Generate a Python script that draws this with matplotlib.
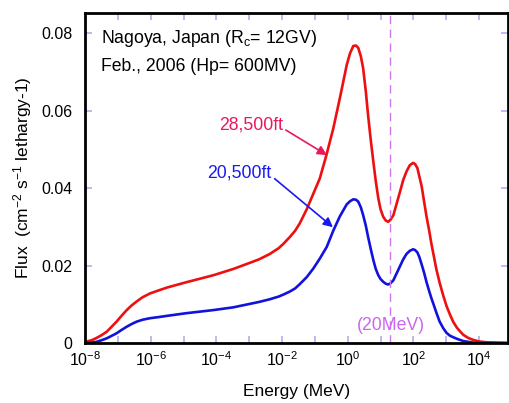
import numpy as np
import matplotlib
matplotlib.use("Agg")
import matplotlib.pyplot as plt
from matplotlib.ticker import FixedLocator, FuncFormatter

plt.rcParams['font.family'] = ['Liberation Sans', 'DejaVu Sans']
plt.rcParams['mathtext.fontset'] = 'custom'
plt.rcParams['mathtext.rm'] = 'Liberation Sans'
plt.rcParams['mathtext.it'] = 'Liberation Sans:italic'
plt.rcParams['mathtext.default'] = 'regular'

# Energy grid as log10(E / MeV)
log_energy = [-8.0, -7.8, -7.65, -7.5, -7.34, -7.2, -7.04, -6.9, -6.73, -6.58,
              -6.43, -6.25, -6.02, -5.75, -5.51, -4.91, -4.5, -4.09, -3.49, -2.98,
              -2.7, -2.37, -2.1, -1.96, -1.76, -1.6, -1.46,
              -1.25, -1.05, -0.85, -0.64, -0.44, -0.24, -0.03, 0.07, 0.17, 0.25,
              0.32, 0.40, 0.47, 0.55, 0.62, 0.70, 0.78, 0.85, 0.93, 1.00,
              1.08, 1.16, 1.23, 1.30, 1.39, 1.49, 1.59, 1.69, 1.79, 1.89,
              1.99, 2.05, 2.12, 2.18, 2.25, 2.32, 2.40, 2.48, 2.55, 2.62,
              2.70, 2.80, 2.91, 3.01, 3.11, 3.21, 3.32, 3.42, 3.52, 3.67,
              3.82, 4.0, 4.2, 4.5, 4.88]

flux_28500ft = [0.0003, 0.0007, 0.0013, 0.0020, 0.0029, 0.0041, 0.0055, 0.0069, 0.0085, 0.0097,
                0.0107, 0.0118, 0.0128, 0.0136, 0.0143, 0.0157, 0.0166, 0.0175, 0.0191, 0.0207,
                0.0216, 0.0230, 0.0245, 0.0256, 0.0274, 0.0290, 0.0309,
                0.0345, 0.0385, 0.0425, 0.0488, 0.0554, 0.0632, 0.0718, 0.0748, 0.0767, 0.0768,
                0.0762, 0.0740, 0.0709, 0.0650, 0.0588, 0.0525, 0.0468, 0.0420, 0.0374, 0.0345,
                0.0326, 0.0316, 0.0313, 0.0318, 0.0330, 0.0360, 0.0390, 0.0421, 0.0443, 0.0459,
                0.0465, 0.0462, 0.0452, 0.0430, 0.0405, 0.0368, 0.0326, 0.0290, 0.0255, 0.0225,
                0.0190, 0.0155, 0.0122, 0.0095, 0.0074, 0.0055, 0.0040, 0.0030, 0.0021, 0.0013,
                0.0008, 0.0004, 0.0002, 0.0001, 0.0]

flux_20500ft = [0.0, 0.0001, 0.0003, 0.0007, 0.0012, 0.0018, 0.0025, 0.0033, 0.0042, 0.0049,
                0.0055, 0.0060, 0.0064, 0.0067, 0.0070, 0.0077, 0.0081, 0.0085, 0.0092, 0.0101,
                0.0106, 0.0113, 0.0120, 0.0125, 0.0133, 0.0141, 0.0152,
                0.0170, 0.0192, 0.0218, 0.0248, 0.0290, 0.0327, 0.0358, 0.0366, 0.0371, 0.0370,
                0.0365, 0.0350, 0.0330, 0.0303, 0.0274, 0.0243, 0.0214, 0.0192, 0.0175, 0.0165,
                0.0158, 0.0153, 0.0151, 0.0154, 0.0162, 0.0180, 0.0198, 0.0216, 0.0230, 0.0238,
                0.0242, 0.0240, 0.0234, 0.0222, 0.0203, 0.0183, 0.0157, 0.0134, 0.0115, 0.0098,
                0.0078, 0.0055, 0.0038, 0.0026, 0.0019, 0.0015, 0.0011, 0.0008, 0.0005, 0.0003,
                0.0001, 0.0, 0.0, 0.0, 0.0]

cutoff_energy = 20.0
x_tick_exps = [-8, -7, -6, -5, -4, -3, -2, -1, 0, 1, 2, 3, 4]
y_ticks = [0, 0.02, 0.04, 0.06, 0.08]
y_tick_labels = ['0', '0.02', '0.04', '0.06', '0.08']

energy = [10.0 ** e for e in log_energy]

fig = plt.figure(figsize=(5.09, 4.03), dpi=100)
ax = fig.add_axes([85/509, 60/403, 423/509, 330/403])

ax.plot(energy, flux_28500ft, color='#ee1010', lw=1.9, solid_joinstyle='round')
ax.plot(energy, flux_20500ft, color='#1212dd', lw=1.9, solid_joinstyle='round')
ax.axvline(cutoff_energy, color='#cc77ee', lw=1.0, ls=(0, (6, 4)))

ax.set_xscale('log')
ax.set_xlim(1e-8, 10 ** 4.88)
ax.set_ylim(0, 0.0852)

ax.xaxis.set_major_locator(FixedLocator([10.0 ** e for e in x_tick_exps]))
ax.xaxis.set_minor_locator(FixedLocator([]))

def xfmt(v, pos):
    e = int(round(np.log10(v)))
    if e % 2 == 0:
        return r'$10^{%d}$' % e
    return ''

ax.xaxis.set_major_formatter(FuncFormatter(xfmt))
ax.set_yticks(y_ticks)
ax.set_yticklabels(y_tick_labels)

ax.tick_params(axis='both', which='both', direction='in', color='#aab0f0',
               length=5, width=1.2, labelsize=11.5, top=True, right=True,
               labelcolor='black')
ax.tick_params(axis='x', pad=5)
ax.tick_params(axis='y', pad=9)

for s in ax.spines.values():
    s.set_color('black')
    s.set_linewidth(2.0)

ax.set_xlabel('Energy (MeV)', fontsize=12.5, labelpad=11)
ax.set_ylabel(r'Flux  (cm$^{-2}$ s$^{-1}$ lethargy-1)', fontsize=12.5, labelpad=5)

ax.text(0.038, 0.924, r'Nagoya, Japan (R$_c$= 12GV)', transform=ax.transAxes,
        fontsize=12.7, ha='left', va='center')
ax.text(0.038, 0.839, 'Feb., 2006 (Hp= 600MV)', transform=ax.transAxes,
        fontsize=12.7, ha='left', va='center')

ax.annotate('28,500ft', xy=(10 ** -0.63, 0.0485), xytext=(10 ** -1.97, 0.0563),
            color='#e8185a', fontsize=12.7, ha='right', va='center',
            arrowprops=dict(arrowstyle='-|>', color='#e8185a', lw=1.2,
                            mutation_scale=14, shrinkA=0, shrinkB=0,
                            relpos=(1.0, 0.3)))
ax.annotate('20,500ft', xy=(10 ** -0.45, 0.0299), xytext=(10 ** -2.31, 0.0439),
            color='#1a1aee', fontsize=12.7, ha='right', va='center',
            arrowprops=dict(arrowstyle='-|>', color='#1a1aee', lw=1.2,
                            mutation_scale=14, shrinkA=0, shrinkB=0,
                            relpos=(1.0, 0.3)))

ax.text(cutoff_energy, 0.0046, '(20MeV)', color='#cc66ee', fontsize=12.7,
        ha='center', va='center')

fig.savefig('out.png', dpi=100)
